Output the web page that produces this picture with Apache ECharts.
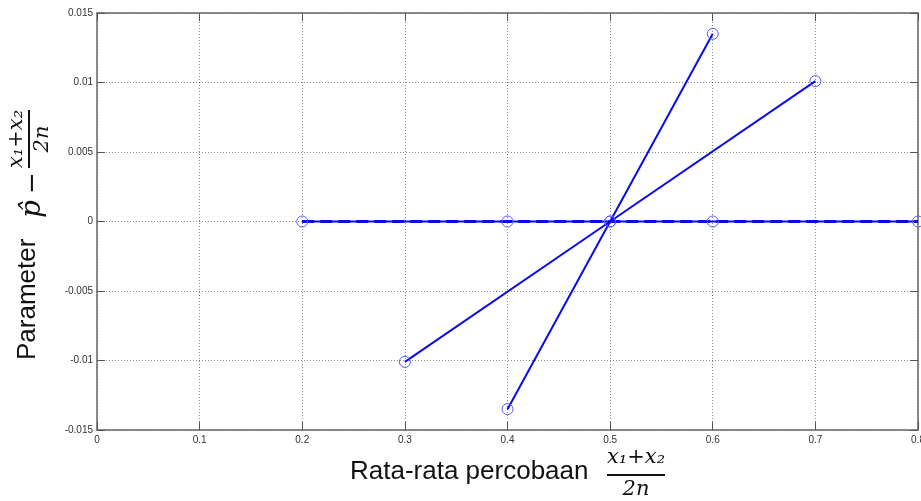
<!DOCTYPE html>
<html>
<head>
    <meta charset="utf-8" />
    <title></title>
    <script src="https://cdn.jsdelivr.net/npm/echarts@6/dist/echarts.min.js"></script>
    <style>
        html, body {
            width: 100%;
            height: 100%;
            margin: 0px;
            padding: 0px;
            background: #fff;
        }
        #main {
            width: 921px;
            height: 501px;
        }
    </style>
</head>
<body>
    <div id="main"></div>
</body>
<script type="text/javascript">
    // data
    var xTicks = [0, 0.1, 0.2, 0.3, 0.4, 0.5, 0.6, 0.7, 0.8];
    var yTicks = [-0.015, -0.01, -0.005, 0, 0.005, 0.01, 0.015];

    var xZero = [0.2, 0.4, 0.6, 0.8];
    var yZero = [0, 0, 0, 0];
    var xSteep = [0.4, 0.5, 0.6];
    var ySteep = [-0.0135, 0, 0.0135];
    var xShallow = [0.3, 0.5, 0.7];
    var yShallow = [-0.0101, 0, 0.0101];

    function pairs(xs, ys) {
        return xs.map(function (x, i) { return [x, ys[i]]; });
    }

    var blue = '#0a0aee';
    var markBlue = '#5a5aff';
    var mathFont = 'italic 21px "DejaVu Serif", serif';

    var myChart = echarts.init(document.getElementById('main'));

    var tickStyle = { show: true, inside: true, length: 8, lineStyle: { color: '#555', width: 1 } };
    var lineAxis = { show: true, onZero: false, lineStyle: { color: '#666', width: 1.5 } };
    var gridLine = { show: true, lineStyle: { color: '#8a8a8a', type: [1, 2], width: 1 } };

    function lineSeries(data, opt) {
        return Object.assign({
            type: 'line',
            data: data,
            xAxisIndex: 0,
            yAxisIndex: 0,
            symbol: 'circle',
            symbolSize: 11,
            showSymbol: true,
            lineStyle: { color: blue, width: 2 },
            itemStyle: { color: 'rgba(255,255,255,0)', borderColor: markBlue, borderWidth: 1 },
            emphasis: { disabled: true },
            animation: false
        }, opt || {});
    }

    myChart.setOption({
        backgroundColor: '#fff',
        grid: { left: 97, right: 3, top: 13, bottom: 71, outerBoundsMode: 'none', containLabel: false },
        xAxis: [{
            type: 'value',
            min: xTicks[0],
            max: xTicks[xTicks.length - 1],
            interval: 0.1,
            axisLine: lineAxis,
            axisTick: tickStyle,
            axisLabel: { color: '#333', fontSize: 10, margin: 5, fontFamily: 'Liberation Sans', alignMaxLabel: 'center' },
            splitLine: gridLine
        }, {
            type: 'value',
            position: 'top',
            min: xTicks[0],
            max: xTicks[xTicks.length - 1],
            interval: 0.1,
            axisLine: lineAxis,
            axisTick: tickStyle,
            axisLabel: { show: false },
            splitLine: { show: false }
        }],
        yAxis: [{
            type: 'value',
            min: yTicks[0],
            max: yTicks[yTicks.length - 1],
            interval: 0.005,
            axisLine: lineAxis,
            axisTick: tickStyle,
            axisLabel: { color: '#333', fontSize: 10, margin: 4, fontFamily: 'Liberation Sans' },
            splitLine: gridLine
        }, {
            type: 'value',
            position: 'right',
            min: yTicks[0],
            max: yTicks[yTicks.length - 1],
            interval: 0.005,
            axisLine: lineAxis,
            axisTick: tickStyle,
            axisLabel: { show: false },
            splitLine: { show: false }
        }],
        series: [
            lineSeries(pairs(xZero, yZero), { lineStyle: { color: blue, width: 2 } }),
            lineSeries(pairs(xZero, yZero), { lineStyle: { color: blue, width: 3, type: [12, 6] }, symbol: 'none' }),
            lineSeries(pairs(xSteep, ySteep)),
            lineSeries(pairs(xShallow, yShallow))
        ],
        graphic: [{
            type: 'group',
            children: [{
                type: 'text',
                style: { text: 'Rata-rata percobaan', x: 350, y: 472, font: '26px "Liberation Sans", Arial, sans-serif', fill: '#111', textAlign: 'left', textVerticalAlign: 'middle' }
            }, {
                type: 'text',
                style: { text: 'x\u2081+x\u2082', x: 636, y: 458, font: mathFont, fill: '#111', textAlign: 'center', textVerticalAlign: 'middle' }
            }, {
                type: 'line',
                shape: { x1: 607, y1: 475, x2: 665, y2: 475 },
                style: { stroke: '#111', lineWidth: 2 }
            }, {
                type: 'text',
                style: { text: '2n', x: 636, y: 490, font: mathFont, fill: '#111', textAlign: 'center', textVerticalAlign: 'middle' }
            }]
        }, {
            type: 'group',
            x: 33,
            y: 365,
            rotation: Math.PI / 2,
            children: [{
                type: 'text',
                style: { text: 'Parameter', x: 5, y: -5, font: '26px "Liberation Sans", Arial, sans-serif', fill: '#111', textAlign: 'left', textVerticalAlign: 'middle' }
            }, {
                type: 'text',
                style: { text: 'p\u0302', x: 156, y: 0, font: 'italic 28px "DejaVu Serif", serif', fill: '#111', textAlign: 'center', textVerticalAlign: 'middle' }
            }, {
                type: 'text',
                style: { text: '\u2212', x: 182, y: 0, font: '26px "DejaVu Serif", serif', fill: '#111', textAlign: 'center', textVerticalAlign: 'middle' }
            }, {
                type: 'text',
                style: { text: 'x\u2081+x\u2082', x: 226, y: -16, font: mathFont, fill: '#111', textAlign: 'center', textVerticalAlign: 'middle' }
            }, {
                type: 'line',
                shape: { x1: 197, y1: -4, x2: 255, y2: -4 },
                style: { stroke: '#111', lineWidth: 2 }
            }, {
                type: 'text',
                style: { text: '2n', x: 226, y: 10, font: mathFont, fill: '#111', textAlign: 'center', textVerticalAlign: 'middle' }
            }]
        }]
    });
</script>
</html>
